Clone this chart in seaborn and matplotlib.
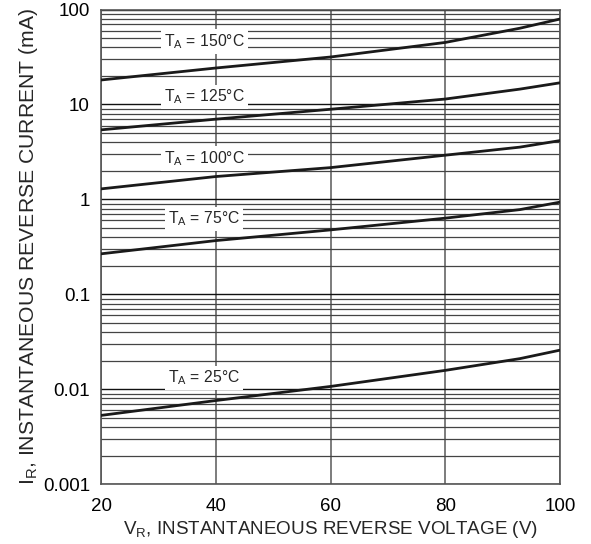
import numpy as np
import pandas as pd
import seaborn as sns
import matplotlib.pyplot as plt
from matplotlib.ticker import FixedLocator, NullFormatter

# reverse voltage (V)
voltage = [20, 40, 60, 80, 93, 100]

# reverse current (mA) for each ambient temperature
i_150 = [18.1, 24.2, 31.6, 45.0, 63.5, 79.4]
i_125 = [5.4, 7.0, 8.9, 11.4, 14.5, 16.9]
i_100 = [1.29, 1.74, 2.16, 2.92, 3.55, 4.16]
i_75 = [0.267, 0.368, 0.477, 0.634, 0.78, 0.935]
i_25 = [0.0053, 0.0076, 0.0107, 0.0158, 0.021, 0.0258]

temps = ['150', '125', '100', '75', '25']
label_y = [46, 12, 2.7, 0.62, 0.0132]
label_x = 38

rows = []
for t, vals in zip(temps, [i_150, i_125, i_100, i_75, i_25]):
    for v, i in zip(voltage, vals):
        rows.append({'VR': v, 'IR': i, 'T': t})
df = pd.DataFrame(rows)

sns.set_style('white')
plt.rcParams['font.family'] = ['Liberation Sans', 'DejaVu Sans']
plt.rcParams['mathtext.fontset'] = 'custom'
plt.rcParams['mathtext.rm'] = 'Liberation Sans'

fig = plt.figure(figsize=(5.91, 5.44), dpi=100)
ax = fig.add_axes([0.171, 0.110, 0.7765, 0.8725])

sns.lineplot(data=df, x='VR', y='IR', hue='T', palette=['#1a1a1a'] * 5,
             linewidth=2, legend=False, ax=ax, zorder=3)

ax.set_yscale('log')
ax.set_xlim(20, 100)
ax.set_ylim(0.001, 100)
ax.set_xticks([20, 40, 60, 80, 100])
ax.set_yticks([0.001, 0.01, 0.1, 1, 10, 100])
ax.set_yticklabels(['0.001', '0.01', '0.1', '1', '10', '100'])
minors = [m * 10.0 ** e for e in range(-3, 2) for m in range(2, 10)]
ax.yaxis.set_minor_locator(FixedLocator(minors))
ax.yaxis.set_minor_formatter(NullFormatter())
ax.tick_params(axis='both', which='both', length=0, labelsize=13.5, colors='black')
ax.tick_params(axis='x', pad=10)
ax.tick_params(axis='y', pad=8)

ax.grid(axis='x', which='major', color='#666666', linewidth=1.2)
ax.grid(axis='y', which='major', color='#111111', linewidth=1)
ax.grid(axis='y', which='minor', color='#444444', linewidth=0.9)
for s in ax.spines.values():
    s.set_color('#555555')
    s.set_linewidth(1.2)

for t, y in zip(temps, label_y):
    ax.text(label_x, y, r'T$_{\mathregular{A}}$ = ' + t + '\u00b0C', fontsize=11.3,
            ha='center', va='center', zorder=4,
            bbox=dict(facecolor='white', edgecolor='none', pad=2))

ax.set_xlabel(r'V$_{\mathregular{R}}$, INSTANTANEOUS REVERSE VOLTAGE (V)', fontsize=13.6, labelpad=3)
ax.set_ylabel(r'I$_{\mathregular{R}}$, INSTANTANEOUS REVERSE CURRENT (mA)', fontsize=15.2, labelpad=2)

fig.savefig('out.png', dpi=100)
